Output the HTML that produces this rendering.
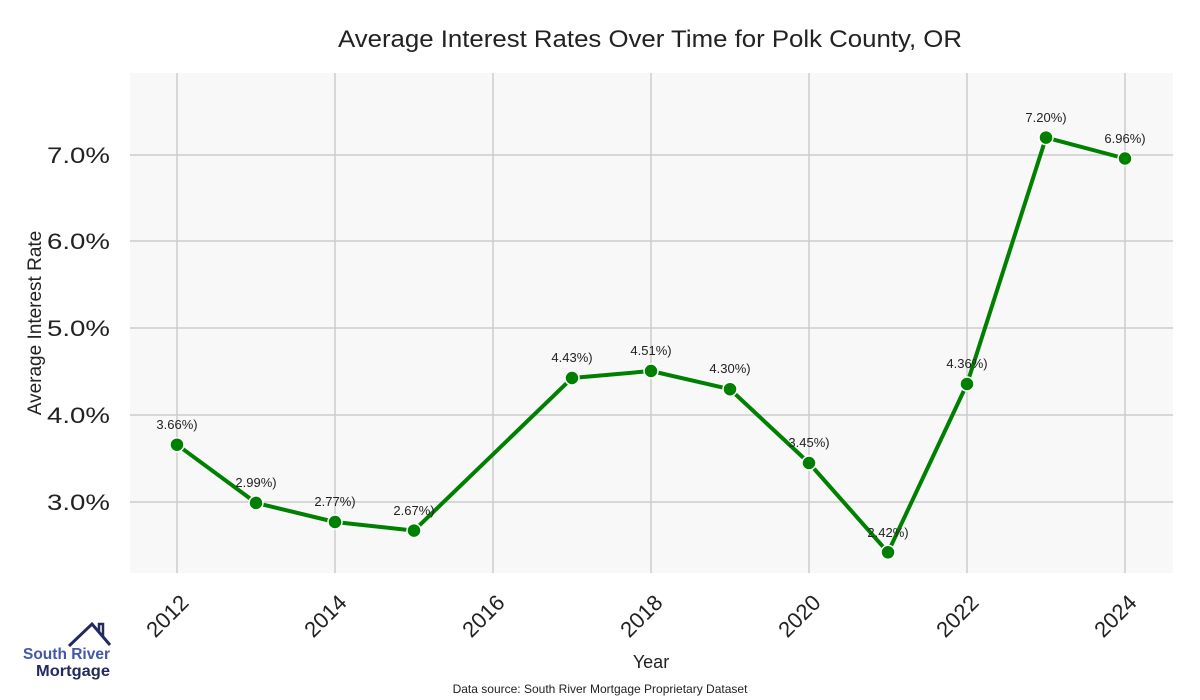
<!DOCTYPE html>
<html><head><meta charset="utf-8"><style>
body{margin:0;background:#fff;}
svg{display:block;font-family:"Liberation Sans",sans-serif;}
</style></head><body>
<svg width="1200" height="700" viewBox="0 0 1200 700">
<rect x="130" y="73" width="1043" height="500" fill="#f8f8f8"/>
<g stroke="#cccccc" stroke-width="1.5">
<line x1="177" y1="73" x2="177" y2="573"/><line x1="335" y1="73" x2="335" y2="573"/>
<line x1="493" y1="73" x2="493" y2="573"/><line x1="651" y1="73" x2="651" y2="573"/>
<line x1="809" y1="73" x2="809" y2="573"/><line x1="967" y1="73" x2="967" y2="573"/>
<line x1="1125" y1="73" x2="1125" y2="573"/>
<line x1="130" y1="155" x2="1173" y2="155"/><line x1="130" y1="241" x2="1173" y2="241"/>
<line x1="130" y1="328" x2="1173" y2="328"/><line x1="130" y1="415" x2="1173" y2="415"/>
<line x1="130" y1="502" x2="1173" y2="502"/>
</g>
<text x="338" y="47" font-size="24" textLength="624" lengthAdjust="spacingAndGlyphs" fill="#222">Average Interest Rates Over Time for Polk County, OR</text>
<g font-size="22" fill="#222">
<text x="47" y="163" textLength="63" lengthAdjust="spacingAndGlyphs">7.0%</text><text x="47" y="249" textLength="63" lengthAdjust="spacingAndGlyphs">6.0%</text><text x="47" y="336" textLength="63" lengthAdjust="spacingAndGlyphs">5.0%</text>
<text x="47" y="423" textLength="63" lengthAdjust="spacingAndGlyphs">4.0%</text><text x="47" y="510" textLength="63" lengthAdjust="spacingAndGlyphs">3.0%</text>
</g>
<text transform="translate(41,323) rotate(-90)" font-size="19" text-anchor="middle" fill="#222">Average Interest Rate</text>
<g font-size="22" fill="#222" text-anchor="end">
<text transform="translate(190,604) rotate(-45)">2012</text>
<text transform="translate(348,604) rotate(-45)">2014</text>
<text transform="translate(506,604) rotate(-45)">2016</text>
<text transform="translate(664,604) rotate(-45)">2018</text>
<text transform="translate(822,604) rotate(-45)">2020</text>
<text transform="translate(980,604) rotate(-45)">2022</text>
<text transform="translate(1138,604) rotate(-45)">2024</text>
</g>
<text x="651" y="668" font-size="18" text-anchor="middle" fill="#222">Year</text>
<text x="600" y="693" font-size="12" text-anchor="middle" fill="#222">Data source: South River Mortgage Proprietary Dataset</text>
<polyline fill="none" stroke="#008000" stroke-width="4" stroke-linejoin="round" points="177,444.7 256,502.9 335,522 414,530.6 572,378 651,371 730,389.2 809,463 888,552.3 967,384 1046,137.6 1125,158.5"/>
<g fill="#008000" stroke="#fff" stroke-width="1.5">
<circle cx="177" cy="444.7" r="7"/><circle cx="256" cy="502.9" r="7"/><circle cx="335" cy="522" r="7"/>
<circle cx="414" cy="530.6" r="7"/><circle cx="572" cy="378" r="7"/><circle cx="651" cy="371" r="7"/>
<circle cx="730" cy="389.2" r="7"/><circle cx="809" cy="463" r="7"/><circle cx="888" cy="552.3" r="7"/>
<circle cx="967" cy="384" r="7"/><circle cx="1046" cy="137.6" r="7"/><circle cx="1125" cy="158.5" r="7"/>
</g>
<g font-size="13" fill="#222" text-anchor="middle">
<text x="177" y="429">3.66%)</text><text x="256" y="487">2.99%)</text><text x="335" y="506">2.77%)</text>
<text x="414" y="515">2.67%)</text><text x="572" y="362">4.43%)</text><text x="651" y="355">4.51%)</text>
<text x="730" y="373">4.30%)</text><text x="809" y="447">3.45%)</text><text x="888" y="537">2.42%)</text>
<text x="967" y="368">4.36%)</text><text x="1046" y="122">7.20%)</text><text x="1125" y="143">6.96%)</text>
</g>
<polyline fill="none" stroke="#232b5e" stroke-width="3" points="69,646 92,624 110,645"/>
<polyline fill="none" stroke="#232b5e" stroke-width="2.5" points="99,632 99,624 103,624 103,636"/>
<text x="23" y="659" font-size="16" font-weight="bold" fill="#4257a8" textLength="87" lengthAdjust="spacingAndGlyphs">South River</text>
<text x="36" y="676" font-size="16" font-weight="bold" fill="#232b5e" textLength="74" lengthAdjust="spacingAndGlyphs">Mortgage</text>
</svg>
</body></html>
